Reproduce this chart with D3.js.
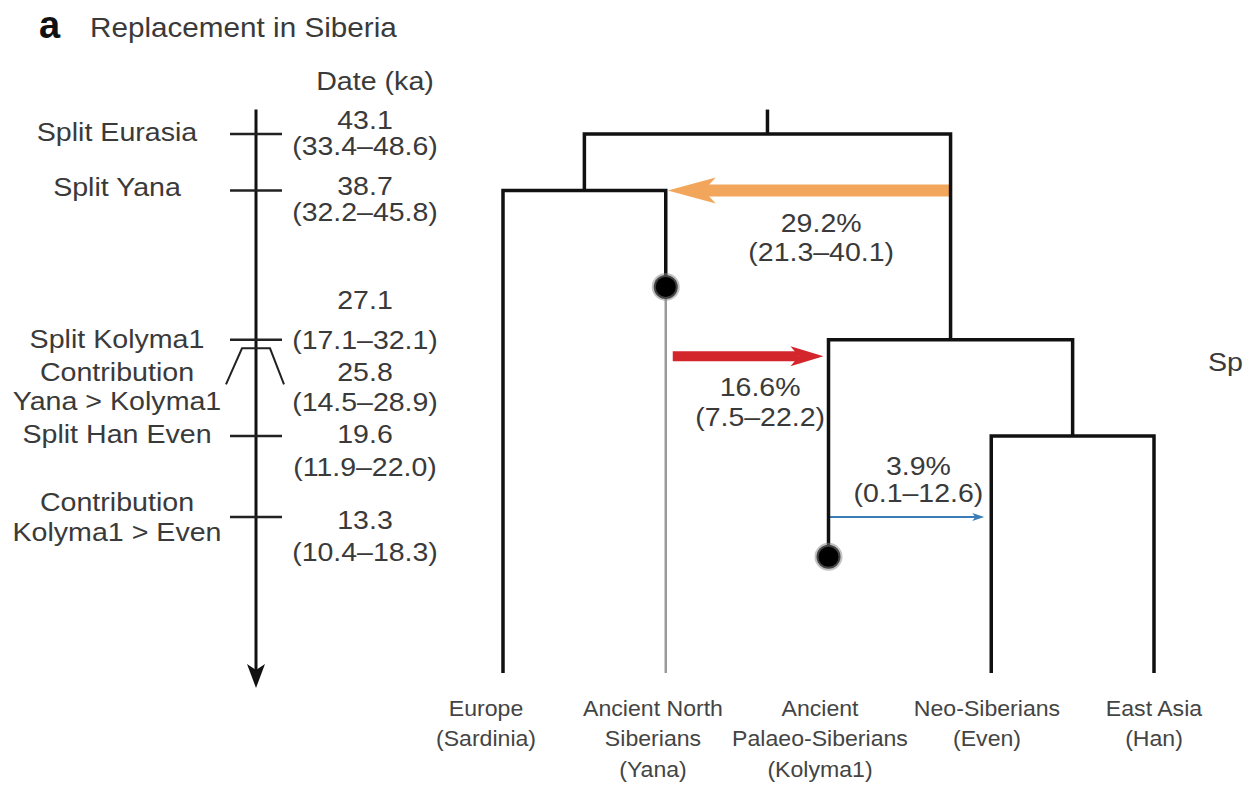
<!DOCTYPE html>
<html>
<head>
<meta charset="utf-8">
<script src="https://cdn.jsdelivr.net/npm/d3@7"></script>
<style>
  body { margin: 0; background: #fff; }
  text { font-family: "Liberation Sans", Arial, Helvetica, sans-serif; fill: #3a3a3a; }
</style>
</head>
<body>
<script>
// timeline of events (left column)
const eventLabels = [["Split Eurasia"], ["Split Yana"], ["Split Kolyma1"],
  ["Contribution", "Yana > Kolyma1"], ["Split Han Even"], ["Contribution", "Kolyma1 > Even"]];
const eventDates = [43.1, 38.7, 27.1, 25.8, 19.6, 13.3];
const eventCIs = ["(33.4–48.6)", "(32.2–45.8)", "(17.1–32.1)", "(14.5–28.9)", "(11.9–22.0)", "(10.4–18.3)"];
const eventIsBracket = [false, false, false, true, false, false];

// tree
const leaves = ["Europe", "Yana", "Kolyma1", "Even", "Han"];
const leafNames = [["Europe", "(Sardinia)"], ["Ancient North", "Siberians", "(Yana)"],
  ["Ancient", "Palaeo-Siberians", "(Kolyma1)"], ["Neo-Siberians", "(Even)"], ["East Asia", "(Han)"]];
const splitNodes = ["Root", "West", "East", "EvenHan"];
const splitKids = [["West", "East"], ["Europe", "Yana"], ["Kolyma1", "EvenHan"], ["Even", "Han"]];
const splitDates = [43.1, 38.7, 27.1, 19.6];
const rootDate = 45.0;
const sampled = ["Yana", "Kolyma1"];
const sampleDates = [31.2, 10.2];
const ghostLineage = ["Yana"];

// admixture pulses
const flowFrom = ["East", "Yana", "Kolyma1"];
const flowTo = ["Yana", "Kolyma1", "Even"];
const flowDates = [38.7, 25.8, 13.3];
const flowPct = ["29.2%", "16.6%", "3.9%"];
const flowCI = ["(21.3–40.1)", "(7.5–22.2)", "(0.1–12.6)"];

// styling / layout bits
const flowColor = ["#f2a65c", "#d3262c", "#3d7db5"];
const flowWidth = [12, 10, 2];
const headLen = [48, 33, 12];
const headHalf = [13, 10, 4];
const startGap = [0, 7, 0];
const tipGap = [2, 5, 7];
const pctDy = [32, 31, -51];
const pctCiDy = [61, 61, -24];
const labelDy = [-2, -4, -1, 15, -2, -15];
const valueDy = [-14, -5, -40, 16, -2, 3];
const ciDy = [12, 21, 0, 46, 31, 35];

const W = 1246, H = 785;
const svg = d3.select("body").append("svg").attr("width", W).attr("height", H);

const y = d3.scaleLinear().domain([43.1, 13.3]).range([134, 517]);
const xLeaf = d3.scalePoint().domain(leaves).range([503, 1154]);
const xLabel = d3.scalePoint().domain(leaves).range([486, 1154]);

function label(g, x, yy, s, o = {}) {
  return g.append("text")
    .attr("transform", `translate(${x},${yy}) scale(${o.sx || 1.1},1)`)
    .attr("dy", "0.36em")
    .attr("text-anchor", o.anchor || "middle")
    .style("font-size", (o.size || 26) + "px")
    .text(s);
}

// title
svg.append("text").attr("x", 39).attr("y", 38)
  .style("font-weight", "bold").style("font-size", "38px").style("fill", "#111").text("a");
svg.append("text").attr("transform", "translate(90,37) scale(1.06,1)")
  .style("font-size", "28px").text("Replacement in Siberia");

// time axis
const ax = 256;
label(svg, 375, 81, "Date (ka)");
svg.append("line").attr("x1", ax).attr("x2", ax)
  .attr("y1", y(rootDate)).attr("y2", y(0) - 12)
  .attr("stroke", "#111").attr("stroke-width", 3);
svg.append("path")
  .attr("d", `M${ax},${y(0)} L${ax - 9},${y(0) - 24} L${ax},${y(0) - 18} L${ax + 9},${y(0) - 24} Z`)
  .attr("fill", "#111");

eventDates.forEach((d, i) => {
  const yy = y(d);
  if (eventIsBracket[i]) {
    svg.append("path")
      .attr("d", `M${ax - 30},${yy + 28} L${ax - 14},${yy - 8} L${ax + 14},${yy - 8} L${ax + 28},${yy + 28}`)
      .attr("fill", "none").attr("stroke", "#222").attr("stroke-width", 2);
  } else {
    svg.append("line").attr("x1", ax - 26).attr("x2", ax + 26)
      .attr("y1", yy).attr("y2", yy)
      .attr("stroke", "#222").attr("stroke-width", 2.5);
  }
  eventLabels[i].forEach((s, j) => label(svg, 117, yy + labelDy[i] + j * 29.5, s));
  label(svg, 365, yy + valueDy[i], d.toFixed(1), { size: 25, sx: 1.14 });
  label(svg, 365, yy + ciDy[i], eventCIs[i], { size: 25, sx: 1.14 });
});

// tree positions
const nodeX = {}, nodeDate = {};
leaves.forEach(l => { nodeX[l] = xLeaf(l); });
splitNodes.forEach((n, i) => { nodeDate[n] = splitDates[i]; });
function getX(n) {
  if (nodeX[n] === undefined) {
    const k = splitKids[splitNodes.indexOf(n)];
    nodeX[n] = (getX(k[0]) + getX(k[1])) / 2;
  }
  return nodeX[n];
}
splitNodes.forEach(getX);
const leafBottom = y(0) - 15;

function bottomOf(n) {
  if (nodeDate[n] !== undefined) return y(nodeDate[n]);
  const s = sampled.indexOf(n);
  return s >= 0 ? y(sampleDates[s]) : leafBottom;
}

// gene flow arrows
flowDates.forEach((d, i) => {
  const yy = y(d);
  const x0 = getX(flowFrom[i]), x1 = getX(flowTo[i]);
  const dir = Math.sign(x1 - x0);
  const start = x0 + dir * startGap[i];
  const tip = x1 - dir * tipGap[i];
  const back = tip - dir * headLen[i];
  const notch = tip - dir * headLen[i] * 0.75;
  svg.append("line").attr("x1", start).attr("x2", notch)
    .attr("y1", yy).attr("y2", yy)
    .attr("stroke", flowColor[i]).attr("stroke-width", flowWidth[i]);
  svg.append("path")
    .attr("d", `M${tip},${yy} L${back},${yy - headHalf[i]} L${notch},${yy} L${back},${yy + headHalf[i]} Z`)
    .attr("fill", flowColor[i]);
  const mid = (start + tip) / 2 + 12;
  label(svg, mid, yy + pctDy[i], flowPct[i], { size: 25, sx: 1.14 });
  label(svg, mid, yy + pctCiDy[i], flowCI[i], { size: 25, sx: 1.14 });
});

// tree branches
const tree = svg.append("g").attr("fill", "none")
  .attr("stroke", "#111").attr("stroke-width", 3.5).attr("stroke-linejoin", "miter");
tree.append("line")
  .attr("x1", getX("Root")).attr("x2", getX("Root"))
  .attr("y1", y(rootDate)).attr("y2", y(splitDates[0]));
splitNodes.forEach((n, i) => {
  const yy = y(splitDates[i]);
  const [a, b] = splitKids[i];
  tree.append("path")
    .attr("d", `M${getX(a)},${bottomOf(a)} V${yy} H${getX(b)} V${bottomOf(b)}`);
});

// sampled ancient individuals
ghostLineage.forEach(n => {
  svg.append("line").attr("x1", getX(n)).attr("x2", getX(n))
    .attr("y1", bottomOf(n)).attr("y2", leafBottom)
    .attr("stroke", "#9a9a9a").attr("stroke-width", 2.5);
});
sampled.forEach((n, i) => {
  svg.append("circle").attr("cx", getX(n)).attr("cy", y(sampleDates[i]))
    .attr("r", 12).attr("fill", "#000")
    .attr("stroke", "#888").attr("stroke-opacity", 0.5).attr("stroke-width", 4);
});

// leaf labels
leaves.forEach((l, i) => {
  leafNames[i].forEach((s, j) => {
    label(svg, xLabel(l), 708 + j * 30.5, s, { size: 22, sx: 1.05 }).style("fill", "#444");
  });
});

// start of the next panel's label, cut by the frame as in the source
label(svg, 1208, 362, "Sp", { anchor: "start" });
</script>
</body>
</html>
